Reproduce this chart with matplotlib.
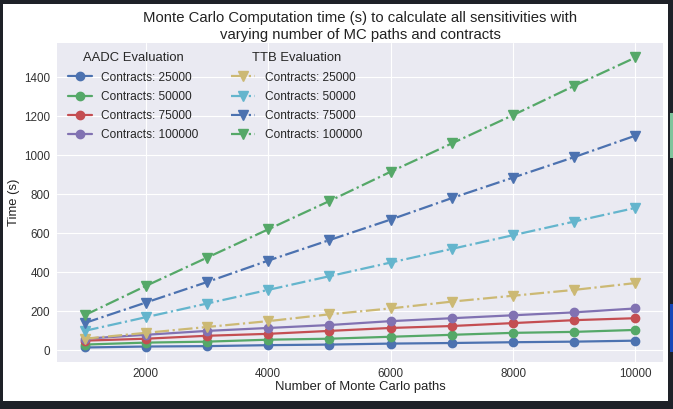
import matplotlib
matplotlib.use("Agg")
import matplotlib.pyplot as plt
from matplotlib.patches import Rectangle

paths = [1000, 2000, 3000, 4000, 5000, 6000, 7000, 8000, 9000, 10000]
contracts = [25000, 50000, 75000, 100000]

# AADC evaluation times (s)
aadc_25k = [15, 20, 22, 27, 30, 35, 38, 42, 45, 50]
aadc_50k = [30, 40, 45, 55, 60, 70, 80, 90, 95, 105]
aadc_75k = [50, 60, 75, 85, 100, 115, 125, 140, 155, 165]
aadc_100k = [60, 80, 100, 115, 130, 150, 165, 180, 195, 215]

# TTB evaluation times (s)
ttb_25k = [60, 90, 120, 150, 185, 215, 250, 280, 310, 345]
ttb_50k = [100, 170, 240, 310, 380, 450, 520, 590, 660, 730]
ttb_75k = [140, 245, 350, 460, 565, 670, 780, 885, 990, 1100]
ttb_100k = [180, 330, 475, 620, 765, 915, 1060, 1205, 1355, 1500]

plt.style.use("seaborn-v0_8-darkgrid")
plt.rcParams["font.family"] = ["Liberation Sans", "DejaVu Sans"]
# old seaborn "deep" cycle
plt.rcParams["axes.prop_cycle"] = plt.cycler(
    color=["#4C72B0", "#55A868", "#C44E52", "#8172B2", "#CCB974", "#64B5CD"])

W, H = 673, 409
fig = plt.figure(figsize=(W / 100, H / 100), dpi=100)
fig.patch.set_facecolor("#1e2128")
# white page of the screenshot
fig.patches.append(Rectangle((3 / W, 1 - 401 / H), 665 / W, 397 / H,
                             transform=fig.transFigure, fc="white", ec="none", zorder=-5))
# bits of window chrome at the right edge
fig.patches.append(Rectangle((670 / W, 1 - 158 / H), 5 / W, 45 / H,
                             transform=fig.transFigure, fc="#7fc49c", ec="none", zorder=-5))
fig.patches.append(Rectangle((670 / W, 1 - 352 / H), 5 / W, 48 / H,
                             transform=fig.transFigure, fc="#1747b8", ec="none", zorder=-5))

ax = fig.add_axes([57 / W, 1 - 362 / H, 606 / W, 319 / H])

aadc = [aadc_25k, aadc_50k, aadc_75k, aadc_100k]
ttb = [ttb_25k, ttb_50k, ttb_75k, ttb_100k]
h1 = []
for c, ys in zip(contracts, aadc):
    ln, = ax.plot(paths, ys, marker="o", ms=6, lw=1.6, label=f"Contracts: {c}")
    h1.append(ln)
h2 = []
for c, ys in zip(contracts, ttb):
    ln, = ax.plot(paths, ys, marker="v", ms=6.5, lw=1.6, ls="-.", label=f"Contracts: {c}")
    h2.append(ln)

ax.tick_params(labelsize=8.4, colors="#333333", pad=5)
ax.tick_params(axis="x", pad=4)
ax.set_xticks([2000, 4000, 6000, 8000, 10000])
ax.set_xlabel("Number of Monte Carlo paths", fontsize=9.4, color="#222222", labelpad=1)
ax.set_ylabel("Time (s)", fontsize=9.4, color="#222222", labelpad=3)
ax.set_title("Monte Carlo Computation time (s) to calculate all sensitivities with\n"
             "varying number of MC paths and contracts", fontsize=10.7, color="#222222",
             linespacing=1.22, pad=3)

leg_kw = dict(loc="upper left", fontsize=8.6, title_fontsize=9.4, frameon=False,
              labelspacing=0.6, handletextpad=0.8)
leg1 = ax.legend(handles=h1, title="AADC Evaluation",
                 bbox_to_anchor=(0.0, 1.004), **leg_kw)
ax.add_artist(leg1)
ax.legend(handles=h2, title="TTB Evaluation", bbox_to_anchor=(0.27, 1.004), **leg_kw)

fig.savefig("out.png", dpi=100, facecolor=fig.get_facecolor())
